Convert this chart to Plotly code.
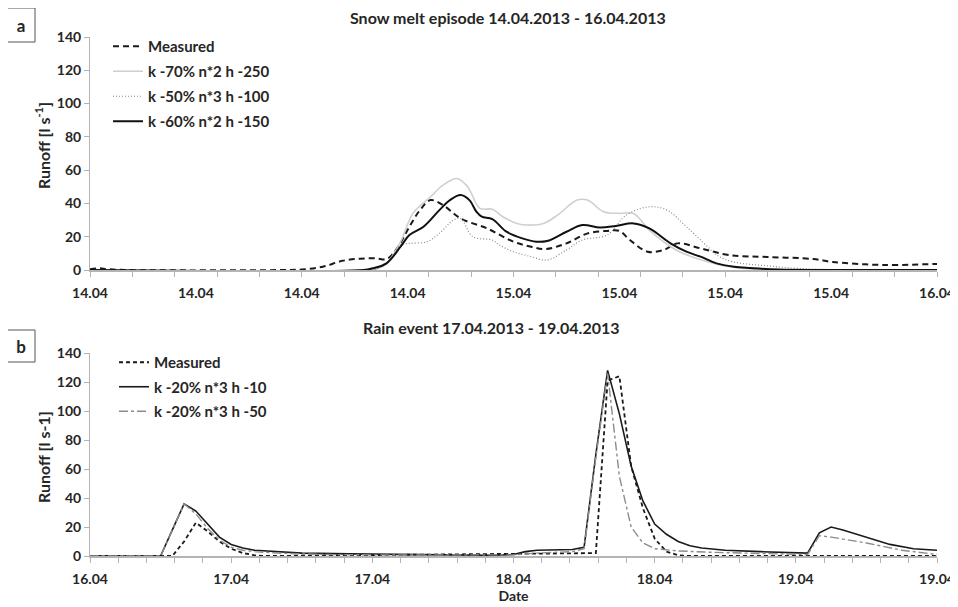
import plotly.graph_objects as go

# ================= DATA =================
# panel a: hours since 14.04 00:00
A_TICKVALS = [0, 6, 12, 18, 24, 30, 36, 42, 48]
A_TICKTEXT = ["14.04", "14.04", "14.04", "14.04", "15.04", "15.04", "15.04", "15.04", "16.04"]

a_meas_h = [0, 0.5, 1, 2, 11, 12, 13.2, 14.3, 15.3, 16.2, 16.8, 17.4, 18.1, 18.7, 19.3, 20, 21,
            22.5, 24, 25, 25.8, 27, 28.2, 29.3, 30, 30.6, 31.6, 32.5, 33.3, 34.6, 36.2, 38.4,
            41, 42.1, 45, 47.8, 48]
a_meas_v = [0.5, 1, 0.5, 0, 0, 0.3, 2, 5.5, 6.8, 7, 6.5, 13, 26, 36, 42, 39, 31,
            25, 17, 14, 12.6, 16, 22, 23.5, 23.5, 18, 11, 12, 16, 13, 9, 7.8,
            6.6, 4.8, 3, 3.6, 3.6]

a_k70_h = [0, 16, 16.8, 17.6, 18.3, 19.3, 20, 20.8, 21.4, 22.1, 22.8, 23.4, 24.2, 24.8, 25.7,
           26.5, 27.6, 28.2, 29.1, 30, 30.8, 31.7, 32.5, 33.4, 35, 36.5, 38, 48]
a_k70_v = [0, 0, 4, 17, 34, 44, 51, 55, 50, 37, 36.5, 32, 28, 27, 28,
           33, 42, 42, 35, 34, 34, 24, 17, 11, 5, 1.5, 0.3, 0]

a_k50_h = [0, 16, 16.8, 17.6, 18.1, 19.1, 19.8, 20.6, 21, 21.7, 22.8, 23.2, 24, 25, 25.9, 27,
           27.9, 29.3, 30.4, 31.7, 32.7, 33.8, 35, 35.5, 36.4, 38.4, 40, 42, 48]
a_k50_v = [0, 0, 4, 15, 16, 17, 22, 30, 31, 20, 18, 15, 11, 8, 6, 12,
           18, 21, 33, 38, 36, 26, 14, 9, 5, 2.5, 1, 0.3, 0]

a_k60_h = [0, 15.5, 16, 16.8, 17.6, 18.1, 18.9, 19.8, 20.4, 21, 21.5, 21.9, 22.2, 22.8, 23.6,
           24.5, 25.3, 25.9, 27, 27.9, 28.9, 29.8, 30.8, 31.7, 32.9, 33.8, 34.6, 35.5, 36.5,
           37.4, 39, 48]
a_k60_v = [0, 0, 1, 4, 14, 21, 26, 36, 42, 45, 42, 35, 32, 30.6, 23,
           19, 17, 17.4, 23, 27, 25.5, 26.5, 28, 25, 16, 11, 8, 4, 2,
           1.2, 0.3, 0]

# panel b: hours since 16.04 12:00
B_TICKVALS = [0, 12, 24, 36, 48, 60, 72]
B_TICKTEXT = ["16.04", "17.04", "17.04", "18.04", "18.04", "19.04", "19.04"]

b_meas_h = [0, 7, 8, 9, 10, 11, 12, 13, 14, 15, 43, 44, 45, 46, 47, 48, 49, 50, 51, 72]
b_meas_v = [0, 0, 10, 23, 17, 10, 5, 2, 0.5, 0, 2, 121, 124, 62, 33, 12, 3, 0.5, 0, 0]

b_h10_h = [0, 6, 7, 8, 9, 10, 11, 12, 13, 14, 16, 18, 22, 26, 30, 34, 36, 37, 38, 41, 42, 43,
           44, 45, 46, 47, 48, 49, 50, 51, 52, 54, 57, 61, 62, 63, 64, 66, 68, 70, 72]
b_h10_v = [0, 0, 18, 36, 31, 22, 13, 8, 5.5, 4, 3, 2, 1.5, 1, 0.8, 0.5, 1, 3, 4, 4.5, 6, 70,
           128, 98, 62, 38, 22, 15, 10, 7, 5.5, 4, 3, 2, 16, 20, 18, 13, 8, 5, 4]

b_h50_h = [0, 6, 7, 8, 9, 10, 11, 12, 13, 14, 16, 20, 26, 34, 36, 38, 41, 42, 43, 44, 45, 46,
           47, 48, 50, 53, 56, 61, 62, 63, 66, 69, 72]
b_h50_v = [0, 0, 18, 36, 29, 19, 11, 6, 4, 3, 2, 1, 0.7, 0.5, 0.8, 2, 3, 5, 68, 126, 55, 20,
           9, 5, 3.5, 2.5, 2, 1, 14, 13, 9, 4, 1]

# ================= FIGURE =================
# the page body has an 8px margin, so the figure is a bit smaller than the window
OFF = 8
W, H = 958 - OFF, 607 - OFF
FONT = "Lato"
TXT = "#262626"
AXC = "#b4b4b4"


def px(x):
    return (x - OFF) / W


def py(y):
    return 1 - (y - OFF) / H


def bold(size):
    return dict(family=FONT, size=size, color=TXT, weight="bold")


fig = go.Figure()

fig.add_trace(go.Scatter(x=a_meas_h, y=a_meas_v, name="Measured", mode="lines", line_shape="spline",
                         line=dict(color="#1a1a1a", width=2, dash="6px,4px"),
                         xaxis="x", yaxis="y", legend="legend", legendgroup="a1"))
fig.add_trace(go.Scatter(x=a_k70_h, y=a_k70_v, name="k -70% n*2 h -250", mode="lines", line_shape="spline",
                         line=dict(color="#cfcfcf", width=1.6),
                         xaxis="x", yaxis="y", legend="legend", legendgroup="a2"))
fig.add_trace(go.Scatter(x=a_k50_h, y=a_k50_v, name="k -50% n*3 h -100", mode="lines", line_shape="spline",
                         line=dict(color="#8a8a8a", width=1.2, dash="1px,2px"),
                         xaxis="x", yaxis="y", legend="legend", legendgroup="a3"))
fig.add_trace(go.Scatter(x=a_k60_h, y=a_k60_v, name="k -60% n*2 h -150", mode="lines", line_shape="spline",
                         line=dict(color="#111111", width=2),
                         xaxis="x", yaxis="y", legend="legend", legendgroup="a4"))

fig.add_trace(go.Scatter(x=b_meas_h, y=b_meas_v, name="Measured", mode="lines",
                         line=dict(color="#1a1a1a", width=1.8, dash="4px,3px"),
                         xaxis="x2", yaxis="y2", legend="legend2", legendgroup="b1"))
fig.add_trace(go.Scatter(x=b_h10_h, y=b_h10_v, name="k -20% n*3 h -10", mode="lines",
                         line=dict(color="#1a1a1a", width=1.6),
                         xaxis="x2", yaxis="y2", legend="legend2", legendgroup="b2"))
fig.add_trace(go.Scatter(x=b_h50_h, y=b_h50_v, name="k -20% n*3 h -50", mode="lines",
                         line=dict(color="#8c8c8c", width=1.4, dash="dashdot"),
                         xaxis="x2", yaxis="y2", legend="legend2", legendgroup="b3"))

xdom = [px(90), px(937)]


def xaxis(tv, tt, rng, anchor, title=None):
    ax = dict(domain=xdom, range=rng, tickvals=tv, ticktext=tt, ticks="",
              showline=True, linecolor=AXC, linewidth=1.5, zeroline=False, showgrid=False,
              tickfont=bold(14), ticklabelstandoff=9, anchor=anchor, automargin=False,
              minor=dict(ticks="outside", dtick=2.4, tick0=0, ticklen=5, tickcolor=AXC,
                         showgrid=False))
    if title:
        ax["title"] = dict(text=title, font=bold(14), standoff=1)
    return ax


def yaxis(dom, anchor):
    return dict(domain=dom, range=[0, 140], dtick=20, ticks="outside", ticklen=5, tickcolor=AXC,
                showline=True, linecolor=AXC, linewidth=1, zeroline=False, showgrid=False,
                tickfont=bold(14), anchor=anchor, automargin=False)


fig.update_layout(
    width=W, height=H,
    margin=dict(l=0, r=0, t=0, b=0, autoexpand=False),
    paper_bgcolor="white", plot_bgcolor="white",
    font=dict(family=FONT, color=TXT),
    xaxis=xaxis(A_TICKVALS, A_TICKTEXT, [0, 48], "y"),
    yaxis=yaxis([py(270), py(37)], "x"),
    xaxis2=xaxis(B_TICKVALS, B_TICKTEXT, [0, 72], "y2", title="Date"),
    yaxis2=yaxis([py(556), py(353)], "x2"),
    legend=dict(x=px(108), y=py(30), xanchor="left", yanchor="top", bgcolor="rgba(0,0,0,0)",
                traceorder="grouped", tracegroupgap=2.5, font=bold(15)),
    legend2=dict(x=px(114), y=py(346), xanchor="left", yanchor="top", bgcolor="rgba(0,0,0,0)",
                 traceorder="grouped", tracegroupgap=2, font=bold(15)),
    showlegend=True,
)

# titles, y labels and panel letters
ann = [
    dict(text="Snow melt episode 14.04.2013 - 16.04.2013", x=px(508), y=py(17), angle=0),
    dict(text="Rain event 17.04.2013 - 19.04.2013", x=px(491), y=py(327), angle=0),
    dict(text="Runoff [l s<sup>-1</sup>]", x=px(43), y=py(146), angle=-90),
    dict(text="Runoff [l s-1]", x=px(43), y=py(457), angle=-90),
]
for a in ann:
    fig.add_annotation(text=a["text"], x=a["x"], y=a["y"], xref="paper", yref="paper",
                       xanchor="center", yanchor="middle", textangle=a["angle"], showarrow=False,
                       font=bold(16))

for letter, y0, y1 in [("a", 8, 42), ("b", 330, 362)]:
    fig.add_shape(type="rect", xref="paper", yref="paper", x0=px(7), x1=px(35), y0=py(y1), y1=py(y0),
                  line=dict(color="#555555", width=1), fillcolor="white", layer="below",
                  label=dict(text=letter, textposition="middle center", font=bold(17)))

fig.write_html("out.html")
